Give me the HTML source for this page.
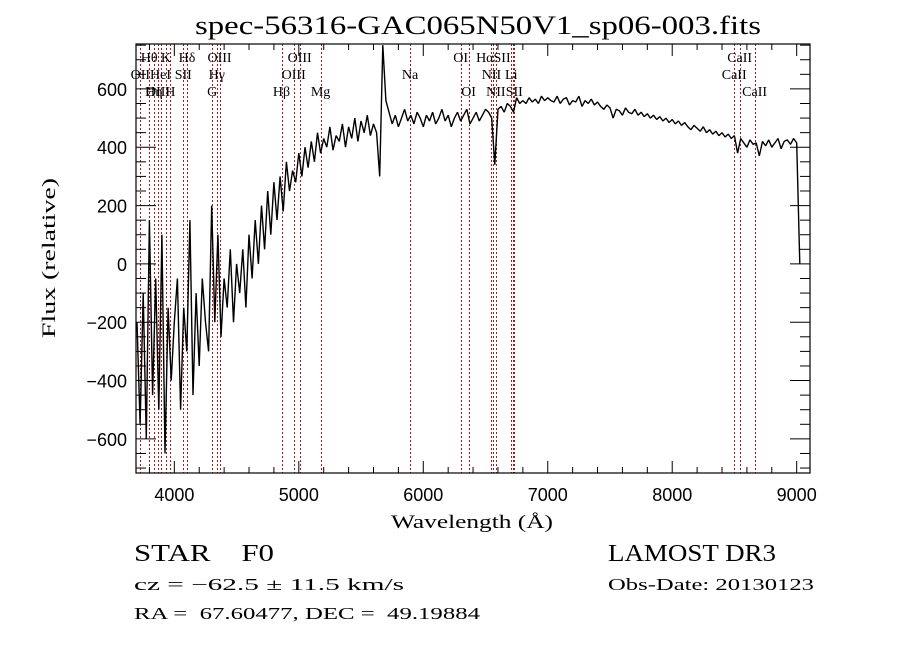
<!DOCTYPE html>
<html><head><meta charset="utf-8">
<style>
html,body{margin:0;padding:0;background:#fff;}
svg{display:block;}
.mono{font-family:"Liberation Sans",sans-serif;}
.ser{font-family:"Liberation Serif",serif;}
</style></head>
<body>
<svg id="chart" width="900" height="649" viewBox="0 0 900 649" xmlns="http://www.w3.org/2000/svg">
<rect x="0" y="0" width="900" height="649" fill="#fff"/>
<text x="478" y="34" text-anchor="middle" class="ser" font-size="26" textLength="566" lengthAdjust="spacingAndGlyphs">spec-56316-GAC065N50V1_sp06-003.fits</text>
<g id="lines"></g>
<g id="labels"></g>
<g id="series"></g>
<g id="axes"></g>
<text x="472" y="528" text-anchor="middle" class="ser" font-size="19" textLength="162" lengthAdjust="spacingAndGlyphs">Wavelength (Å)</text>
<text transform="translate(55,258) rotate(-90)" text-anchor="middle" class="ser" font-size="19" textLength="160" lengthAdjust="spacingAndGlyphs">Flux (relative)</text>
<text x="134" y="561" class="ser" font-size="24" textLength="140" lengthAdjust="spacingAndGlyphs" xml:space="preserve" style="white-space:pre">STAR    F0</text>
<text x="608" y="561" class="ser" font-size="24" textLength="168" lengthAdjust="spacingAndGlyphs">LAMOST DR3</text>
<text x="134" y="590" class="ser" font-size="17" textLength="270" lengthAdjust="spacingAndGlyphs">cz = −62.5 ± 11.5 km/s</text>
<text x="608" y="590" class="ser" font-size="17" textLength="206" lengthAdjust="spacingAndGlyphs">Obs-Date: 20130123</text>
<text x="134" y="619" class="ser" font-size="17" textLength="346" lengthAdjust="spacingAndGlyphs" xml:space="preserve" style="white-space:pre">RA =  67.60477, DEC =  49.19884</text>
</svg>
<script>
const wlStart = 3700;
const wlStep = 25;
const flux = [
-200,-550,-100,-600,150,-450,-50,-500,100,-650,-150,-400,-200,
-50,-500,-150,-300,150,-450,-100,-350,-50,-200,-300,200,
-200,100,-250,-50,-150,50,-200,0,
-100,50,-150,100,-50,150,0,200,50,250,100,280,
150,300,180,350,250,320,280,380,
300,400,330,420,350,450,380,430,400,470,390,440,
420,480,400,470,430,500,420,490,450,510,440,480,
450,300,750,560,
520,480,510,470,500,530,490,510,480,520,500,470,510,490,520,480,500,530,490,510,470,500,520,490,510,530,480,500,520,490,510,530,
520,500,340,530,540,520,550,540,520,570,550,560,550,570,555,565,550,575,560,570,
560,555,575,550,565,570,545,560,555,575,540,560,550,565,545,555,540,530,545,535,
500,530,525,510,535,520,515,530,510,520,505,515,500,510,495,505,490,500,485,495,
480,490,475,485,470,460,475,465,455,470,450,460,445,455,440,450,435,445,430,440,
380,430,415,400,425,410,415,370,420,405,425,400,415,430,395,420,425,410,430,415,
0
];
const lineWaves = [3727,3798,3835,3869,3889,3933,3968,4072,4102,4304,4341,4363,4861,4959,5007,5175,5894,6300,6364,6548,6563,6583,6707,6717,6731,8498,8542,8662];
const labelNames = ["Hθ","K","Hδ","OIII","OIII","OI","HαSII","CaII","OII","HeI","SII","Hγ","OIII","Na","NII","Li","CaII","OIII","Hη","H","G","Hβ","Mg","OI","NII","SII","CaII"];
const labelWaves = [3798,3933,4102,4363,5007,6300,6563,8542,3727,3889,4072,4341,4959,5894,6548,6707,8498,3869,3835,3968,4304,4861,5175,6364,6583,6731,8662];
const labelRows = [0,0,0,0,0,0,0,0,1,1,1,1,1,1,1,1,1,2,2,2,2,2,2,2,2,2,2];
const xTicks = [4000,5000,6000,7000,8000,9000];
const yTicks = [-600,-400,-200,0,200,400,600];

const L=136,R=810,T=44,B=473;
const xMin=3692,xMax=9107,yMin=-717,yMax=754;
const X=w=>L+(w-xMin)/(xMax-xMin)*(R-L);
const Y=f=>B-(f-yMin)/(yMax-yMin)*(B-T);
const NS="http://www.w3.org/2000/svg";
function mk(tag,parent,attrs){const e=document.createElementNS(NS,tag);for(const k in attrs)e.setAttribute(k,attrs[k]);parent.appendChild(e);return e;}

const gl=document.getElementById('lines');
lineWaves.forEach(w=>{
  const xx=Math.round(X(w))+0.5;
  const e=mk('line',gl,{x1:xx,x2:xx,y1:T,y2:B,stroke:'#b01818','stroke-width':1,'stroke-dasharray':'2,2'});
  
  
});
const glab=document.getElementById('labels');
labelNames.forEach((n,i)=>{
  const t=mk('text',glab,{x:X(labelWaves[i]),y:62+labelRows[i]*17,'text-anchor':'middle','font-size':14,'class':'ser'});
  t.textContent=n;
  
  
});

const gs=document.getElementById('series');
let d='';
flux.forEach((f,i)=>{const w=wlStart+i*wlStep;const fx=Math.max(yMin,Math.min(yMax,f));d+=(i?'L':'M')+X(w).toFixed(1)+','+Y(fx).toFixed(1);});
const p=mk('path',gs,{d:d,fill:'none',stroke:'#000','stroke-width':1.4,'stroke-linejoin':'bevel'});



const ga=document.getElementById('axes');
const fr=mk('rect',ga,{x:L,y:T,width:R-L,height:B-T,fill:'none',stroke:'#000','stroke-width':1.2});


for(let w=3800;w<=9100;w+=200){
  const maj=w%1000===0, len=maj?12:6;
  mk('line',ga,{x1:X(w),x2:X(w),y1:B,y2:B-len,stroke:'#000'});
  mk('line',ga,{x1:X(w),x2:X(w),y1:T,y2:T+len,stroke:'#000'});
}
for(let f=-700;f<=750;f+=50){
  const maj=f%200===0, len=maj?20:10;
  mk('line',ga,{x1:L,x2:L+len,y1:Y(f),y2:Y(f),stroke:'#000'});
  mk('line',ga,{x1:R,x2:R-len,y1:Y(f),y2:Y(f),stroke:'#000'});
}
xTicks.forEach(v=>{
  const t=mk('text',ga,{x:X(v),y:501,'text-anchor':'middle','font-size':18,'class':'mono'});
  t.textContent=String(v);
  
  
});
yTicks.forEach(v=>{
  const t=mk('text',ga,{x:127,y:Y(v)+7,'text-anchor':'end','font-size':18,'class':'mono'});
  t.textContent=v<0?'−'+Math.abs(v):String(v);
  
  
});
</script>
</body></html>
